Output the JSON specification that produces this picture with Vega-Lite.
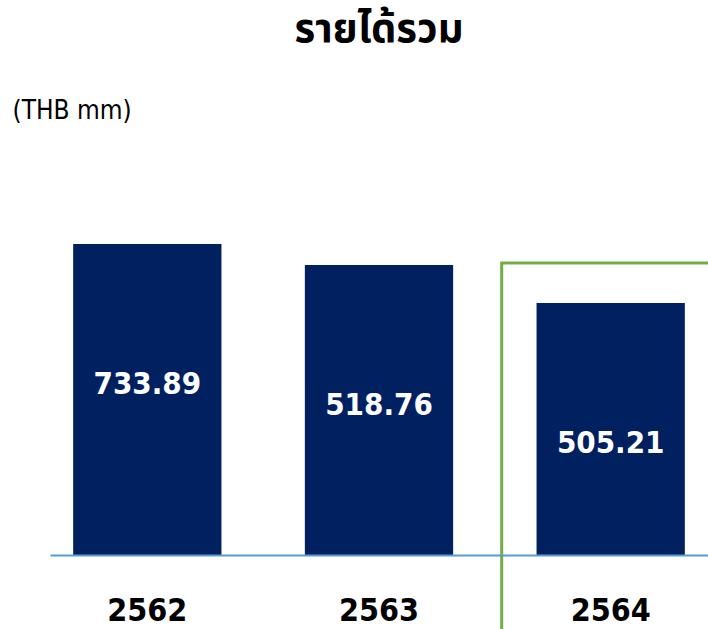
{
  "$schema": "https://vega.github.io/schema/vega-lite/v6.json",
  "autosize": {"type": "none"},
  "padding": {"left": 50, "top": 140, "right": 0, "bottom": 74},
  "width": 658,
  "height": 415,
  "background": "white",
  "title": {
    "text": "รายได้รวม",
    "font": "Noto Sans Thai, Noto Sans, DejaVu Sans, sans-serif",
    "fontSize": 40,
    "fontWeight": "bold",
    "color": "#000000",
    "anchor": "middle",
    "frame": "group",
    "baseline": "middle",
    "offset": 27
  },
  "config": {"view": {"stroke": null}},
  "data": {
    "values": [
      {"year": "2562", "label": "733.89", "bar": 733.9},
      {"year": "2563", "label": "518.76", "bar": 684.3},
      {"year": "2564", "label": "505.21", "bar": 594.7}
    ]
  },
  "encoding": {
    "x": {
      "field": "year",
      "type": "nominal",
      "sort": null,
      "scale": {"paddingInner": 0.36, "paddingOuter": 0.1},
      "axis": {
        "title": null,
        "labelAngle": 0,
        "labelFont": "DejaVu Sans Condensed",
        "labelFontWeight": "bold",
        "labelFontSize": 32,
        "labelColor": "#000000",
        "labelPadding": 40,
        "ticks": false,
        "domainColor": "#5B9BD5",
        "domainWidth": 2,
        "grid": false,
        "zindex": 1
      }
    }
  },
  "layer": [
    {
      "mark": {"type": "bar", "color": "#002060"},
      "encoding": {
        "y": {
          "field": "bar",
          "type": "quantitative",
          "scale": {"domain": [0, 979.3], "nice": false, "zero": false},
          "axis": {
            "title": "(THB mm)",
            "titleAngle": 0,
            "titleAlign": "left",
            "titleBaseline": "middle",
            "titleX": -38,
            "titleY": -30,
            "titleFont": "DejaVu Sans Condensed",
            "titleFontSize": 26,
            "titleFontWeight": "normal",
            "titleColor": "#000000",
            "labels": false,
            "ticks": false,
            "domain": false,
            "grid": false
          }
        }
      }
    },
    {
      "mark": {
        "type": "text",
        "color": "#FFFFFF",
        "font": "DejaVu Sans Condensed",
        "fontWeight": "bold",
        "fontSize": 31,
        "baseline": "middle",
        "dy": 141
      },
      "encoding": {
        "y": {"field": "bar", "type": "quantitative"},
        "text": {"field": "label"}
      }
    },
    {
      "transform": [{"filter": "datum.year == '2564'"}],
      "mark": {
        "type": "bar",
        "fill": null,
        "fillOpacity": 0,
        "stroke": "#70AD47",
        "strokeWidth": 3,
        "width": {"band": 1.47}
      },
      "encoding": {
        "y": {"datum": 689},
        "y2": {"datum": -200}
      }
    }
  ]
}
